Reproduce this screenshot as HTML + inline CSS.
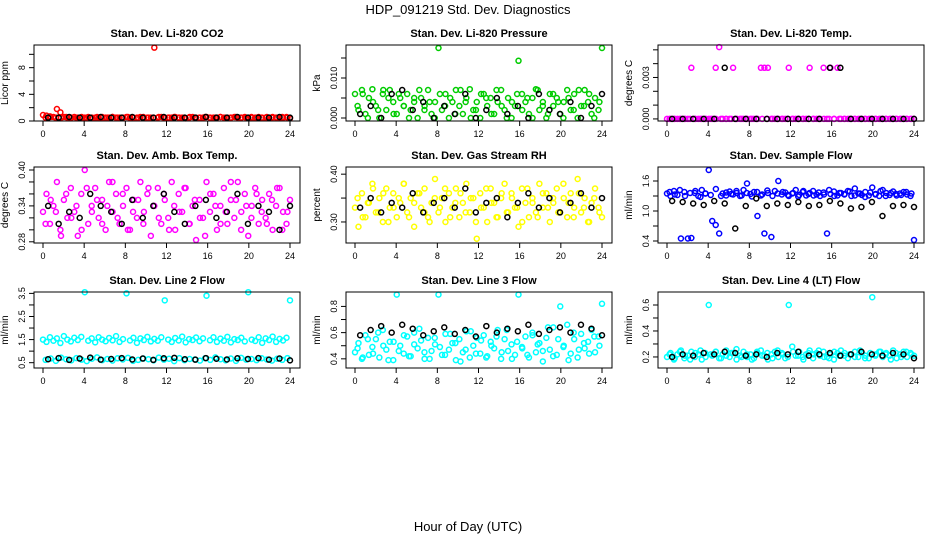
<!DOCTYPE html>
<html><head><meta charset="utf-8"><style>
html,body{margin:0;padding:0;background:#fff;}
svg{display:block;font-family:"Liberation Sans",Arial,sans-serif;}
</style></head><body>
<svg id="chart" width="936" height="540" viewBox="0 0 936 540" xmlns="http://www.w3.org/2000/svg">
<text x="468" y="14" font-size="13" text-anchor="middle">HDP_091219  Std. Dev. Diagnostics</text>
<text x="468" y="531" font-size="13" text-anchor="middle">Hour of Day (UTC)</text>
</svg>
<script>
const hourTicks = [0,4,8,12,16,20,24];
const titles = ["Stan. Dev. Li-820 CO2","Stan. Dev. Li-820 Pressure","Stan. Dev. Li-820 Temp.","Stan. Dev. Amb. Box Temp.","Stan. Dev. Gas Stream RH","Stan. Dev. Sample Flow","Stan. Dev. Line 2 Flow","Stan. Dev. Line 3 Flow","Stan. Dev. Line 4 (LT) Flow"];
const yTitles = ["Licor ppm","kPa","degrees C","degrees C","percent","ml/min","ml/min","ml/min","ml/min"];
const colors = ["#ff0000","#00cc00","#ff00ff","#ff00ff","#ffff00","#0000ff","#00ffff","#00ffff","#00ffff"];
const yTicks = [[0,2,4,6,8,10],[0,0.005,0.010,0.015],[0,0.001,0.002,0.003,0.004,0.005],[0.28,0.30,0.32,0.34,0.36,0.38,0.40],[0.30,0.35,0.40],[0.4,0.7,1.0,1.3,1.6],[0.5,1.0,1.5,2.0,2.5,3.0,3.5],[0.4,0.5,0.6,0.7,0.8],[0.2,0.3,0.4,0.5,0.6]];
const yTickLabels = [["0","","4","","8",""],["0.000","","0.010",""],["0.000","","","0.003","",""],["0.28","","","0.34","","","0.40"],["0.30","","0.40"],["0.4","","1.0","","1.6"],["0.5","","1.5","","2.5","","3.5"],["0.4","","0.6","","0.8"],["0.2","","0.4","","0.6"]];
const yDomains = [[0,11.4],[-0.00075,0.01825],[-0.00015,0.00535],[0.278,0.405],[0.256,0.415],[0.36,1.88],[0.27,3.56],[0.33,0.91],[0.115,0.70]];

const colorVals1 = [0.9,0.8,0.7,0.6,1.8,1.3,0.6,0.5,0.5,0.6,0.5,0.5,0.5,0.6,0.5,0.5,0.5,0.6,0.5,0.5,0.6,0.5,0.5,0.5,0.6,0.5,0.5,0.5,0.6,0.5,0.5,0.5,11,0.5,0.6,0.5,0.5,0.5,0.6,0.5,0.5,0.4,0.5,0.6,0.5,0.5,0.5,0.6,0.5,0.5,0.5,0.6,0.5,0.5,0.5,0.6,0.5,0.5,0.6,0.5,0.5,0.5,0.6,0.5,0.5,0.5,0.6,0.5,0.5,0.5,0.6,0.4];
const blackVals1 = [0.5,0.5,0.6,0.5,0.5,0.6,0.5,0.5,0.6,0.5,0.5,0.6,0.5,0.5,0.5,0.6,0.5,0.5,0.6,0.5,0.5,0.5,0.6,0.5];
const colorVals2 = [0.006,0.002,0.007,0.001,0.005,0.0072,0.003,0.000,0.006,0.002,0.007,0.004,0.001,0.005,0.003,0.006,0.002,0.004,0.000,0.005,0.003,0.007,0.001,0.004,0.0175,0.002,0.006,0.000,0.004,0.007,0.003,0.001,0.005,0.0072,0.002,0.004,0.000,0.006,0.003,0.005,0.001,0.004,0.007,0.002,0.005,0.000,0.003,0.0143,0.006,0.004,0.001,0.005,0.0072,0.002,0.004,0.000,0.006,0.003,0.005,0.001,0.004,0.007,0.002,0.006,0.000,0.003,0.007,0.004,0.001,0.005,0.002,0.0175];
const blackVals2 = [0.001,0.003,0.000,0.006,0.007,0.002,0.004,0.000,0.003,0.001,0.006,0.000,0.002,0.005,0.001,0.003,0.000,0.006,0.002,0.001,0.004,0.000,0.003,0.006];
const colorVals3 = [0,0,0,0,0,0,0,0.0037,0,0,0,0,0,0,0.0037,0.0052,0,0,0,0.0037,0,0,0,0,0,0,0,0.0037,0.0037,0.0037,0,0,0,0,0,0.0037,0,0,0,0,0,0.0037,0,0,0,0.0037,0,0.0037,0,0.0037,0,0,0,0,0,0,0,0,0,0,0,0,0,0,0,0,0,0,0,0,0,0];
const blackVals3 = [0,0,0,0,0,0.0037,0,0,0,0,0,0,0,0,0,0.0037,0.0037,0,0,0,0,0,0,0];
const colorVals4 = [0.33,0.36,0.31,0.34,0.38,0.30,0.35,0.32,0.37,0.33,0.29,0.36,0.40,0.31,0.34,0.37,0.32,0.35,0.30,0.38,0.33,0.36,0.31,0.34,0.37,0.30,0.35,0.32,0.38,0.33,0.36,0.29,0.34,0.37,0.31,0.35,0.32,0.38,0.30,0.36,0.33,0.37,0.31,0.34,0.283,0.35,0.32,0.38,0.33,0.36,0.30,0.34,0.37,0.31,0.35,0.32,0.38,0.33,0.36,0.29,0.34,0.37,0.31,0.35,0.32,0.36,0.30,0.34,0.37,0.33,0.31,0.35];
const blackVals4 = [0.34,0.31,0.33,0.32,0.36,0.34,0.33,0.31,0.35,0.32,0.34,0.36,0.33,0.31,0.34,0.35,0.32,0.33,0.36,0.31,0.34,0.33,0.30,0.34];
const colorVals5 = [0.33,0.29,0.36,0.31,0.34,0.38,0.32,0.35,0.30,0.37,0.33,0.36,0.31,0.34,0.38,0.32,0.35,0.29,0.36,0.33,0.37,0.31,0.34,0.39,0.32,0.35,0.30,0.36,0.33,0.37,0.31,0.34,0.38,0.32,0.35,0.265,0.36,0.33,0.30,0.37,0.34,0.31,0.35,0.38,0.32,0.36,0.33,0.29,0.37,0.34,0.31,0.35,0.32,0.38,0.33,0.36,0.30,0.34,0.37,0.32,0.35,0.31,0.36,0.33,0.39,0.32,0.35,0.30,0.34,0.37,0.33,0.31];
const blackVals5 = [0.33,0.35,0.32,0.34,0.33,0.36,0.32,0.34,0.35,0.33,0.37,0.32,0.34,0.35,0.31,0.34,0.36,0.33,0.35,0.32,0.34,0.36,0.33,0.35];
const colorVals6 = [1.35,1.30,1.40,1.32,0.45,1.38,0.45,0.46,1.36,1.30,1.42,1.35,1.82,0.80,0.72,0.55,1.35,1.31,1.39,1.33,1.36,1.30,1.42,1.55,1.34,1.38,0.90,1.31,0.55,1.36,0.48,1.40,1.60,1.33,1.37,1.30,1.35,1.42,1.32,1.38,1.31,1.36,1.40,1.33,1.30,1.37,0.55,1.34,1.39,1.31,1.36,1.33,1.40,1.30,1.45,1.35,1.32,1.38,1.31,1.47,1.34,1.30,1.42,1.36,1.32,1.39,1.31,1.35,1.38,1.33,1.30,0.42];
const blackVals6 = [1.20,1.18,1.15,1.12,1.20,1.15,0.65,1.10,1.25,1.10,1.15,1.12,1.18,1.10,1.12,1.20,1.15,1.05,1.08,1.18,0.90,1.10,1.12,1.08];
const colorVals7 = [1.50,1.40,1.60,1.45,1.55,1.35,1.65,1.50,1.42,1.58,1.48,1.62,3.55,1.45,1.55,1.38,1.60,1.50,1.43,1.57,1.47,1.65,1.40,1.52,3.50,1.46,1.58,1.36,1.55,1.48,1.62,1.42,1.53,1.45,1.60,3.20,1.50,1.40,1.57,1.46,1.63,1.38,1.52,1.48,1.59,1.43,1.55,3.40,1.47,1.60,1.40,1.54,1.45,1.62,1.38,1.52,1.48,1.58,1.42,3.55,1.50,1.44,1.60,1.36,1.55,1.48,1.63,1.40,1.53,1.46,1.58,3.20];
const blackVals7 = [0.65,0.70,0.62,0.68,0.72,0.63,0.66,0.70,0.64,0.68,0.62,0.69,0.71,0.65,0.63,0.70,0.67,0.64,0.69,0.66,0.70,0.63,0.68,0.60];
const colorVals8 = [0.45,0.52,0.40,0.58,0.43,0.49,0.55,0.41,0.62,0.47,0.53,0.39,0.89,0.50,0.44,0.57,0.42,0.60,0.48,0.54,0.40,0.56,0.46,0.51,0.89,0.43,0.59,0.47,0.52,0.39,0.55,0.45,0.61,0.41,0.50,0.56,0.44,0.58,0.42,0.53,0.48,0.62,0.40,0.55,0.46,0.51,0.43,0.89,0.49,0.57,0.41,0.60,0.45,0.52,0.38,0.56,0.47,0.64,0.43,0.80,0.50,0.66,0.44,0.55,0.41,0.59,0.48,0.53,0.62,0.45,0.57,0.82];
const blackVals8 = [0.58,0.62,0.65,0.60,0.66,0.63,0.58,0.61,0.64,0.59,0.62,0.57,0.65,0.60,0.63,0.61,0.66,0.59,0.62,0.64,0.60,0.66,0.63,0.58];
const colorVals9 = [0.20,0.23,0.18,0.22,0.25,0.19,0.21,0.24,0.20,0.22,0.18,0.23,0.60,0.21,0.24,0.19,0.22,0.25,0.20,0.23,0.18,0.21,0.24,0.20,0.22,0.19,0.23,0.25,0.21,0.18,0.22,0.24,0.20,0.23,0.19,0.60,0.28,0.21,0.24,0.20,0.22,0.25,0.19,0.23,0.21,0.24,0.20,0.22,0.18,0.23,0.25,0.21,0.19,0.22,0.24,0.20,0.23,0.21,0.19,0.66,0.22,0.24,0.20,0.23,0.21,0.25,0.19,0.22,0.24,0.20,0.23,0.21];
const blackVals9 = [0.20,0.22,0.21,0.23,0.22,0.24,0.23,0.21,0.22,0.20,0.23,0.22,0.24,0.21,0.22,0.23,0.21,0.22,0.24,0.22,0.21,0.23,0.22,0.19];

// second batch of colored readings (interleaved in time)
const extraVals1 = [0.5,0.6,0.5,0.5,0.6,0.5,0.5,0.6,0.5,0.5,0.6,0.5,0.5,0.6,0.5,0.5,0.6,0.5,0.5,0.6,0.5,0.5,0.6,0.5,0.5,0.6,0.5,0.5,0.6,0.5,0.5,0.6,0.5,0.5,0.6,0.5,0.5,0.6,0.5,0.5,0.6,0.5,0.5,0.6,0.5,0.5,0.6,0.5];
const extraVals2 = [0.003,0.006,0.000,0.004,0.002,0.007,0.005,0.001,0.006,0.003,0.000,0.005,0.007,0.002,0.004,0.000,0.006,0.003,0.005,0.001,0.007,0.004,0.000,0.002,0.006,0.005,0.001,0.007,0.003,0.000,0.004,0.006,0.002,0.005,0.000,0.007,0.003,0.001,0.006,0.004,0.000,0.005,0.002,0.007,0.003,0.006,0.000,0.004];
const extraVals3 = [0,0,0,0,0,0,0,0,0,0,0,0,0,0,0,0,0,0,0,0,0,0,0,0,0,0,0,0,0,0,0,0,0,0,0,0,0,0,0,0,0,0,0,0,0,0,0,0];
const extraVals4 = [0.31,0.35,0.33,0.29,0.36,0.32,0.34,0.30,0.37,0.33,0.35,0.31,0.34,0.38,0.32,0.36,0.30,0.33,0.35,0.31,0.37,0.34,0.32,0.36,0.30,0.34,0.33,0.37,0.31,0.35,0.32,0.29,0.36,0.34,0.31,0.33,0.38,0.35,0.30,0.34,0.32,0.36,0.33,0.31,0.35,0.37,0.30,0.33];
const extraVals5 = [0.35,0.31,0.34,0.37,0.32,0.36,0.30,0.33,0.35,0.38,0.31,0.34,0.36,0.32,0.30,0.35,0.33,0.37,0.31,0.34,0.36,0.32,0.35,0.30,0.33,0.37,0.34,0.31,0.36,0.32,0.35,0.33,0.30,0.37,0.34,0.31,0.36,0.33,0.35,0.32,0.38,0.34,0.31,0.36,0.33,0.30,0.35,0.32];
const extraVals6 = [1.38,1.33,1.42,1.30,1.36,1.40,1.28,1.35,1.32,1.44,1.30,1.37,1.34,1.40,1.31,1.36,1.29,1.38,1.33,1.41,1.30,1.35,1.38,1.32,1.36,1.29,1.40,1.34,1.31,1.37,1.33,1.42,1.30,1.36,1.34,1.39,1.31,1.35,1.28,1.37,1.33,1.40,1.30,1.36,1.34,1.32,1.38,1.35];
const extraVals7 = [0.62,0.68,0.58,0.72,0.65,0.60,0.70,0.63,0.57,0.67,0.73,0.61,0.66,0.59,0.69,0.64,0.71,0.58,0.62,0.68,0.65,0.60,0.72,0.63,0.67,0.57,0.70,0.61,0.66,0.64,0.59,0.69,0.62,0.73,0.65,0.60,0.68,0.58,0.71,0.63,0.66,0.61,0.69,0.64,0.59,0.67,0.62,0.70];
const extraVals8 = [0.48,0.41,0.55,0.44,0.60,0.50,0.39,0.53,0.46,0.58,0.42,0.51,0.63,0.45,0.40,0.56,0.49,0.43,0.59,0.52,0.38,0.47,0.61,0.44,0.54,0.41,0.50,0.57,0.45,0.62,0.40,0.53,0.48,0.43,0.58,0.51,0.46,0.64,0.42,0.55,0.49,0.39,0.60,0.47,0.52,0.44,0.57,0.50];
const extraVals9 = [0.22,0.19,0.24,0.21,0.18,0.23,0.25,0.20,0.22,0.24,0.19,0.21,0.23,0.26,0.20,0.22,0.18,0.24,0.21,0.23,0.19,0.25,0.22,0.20,0.24,0.21,0.18,0.23,0.22,0.25,0.20,0.19,0.24,0.21,0.23,0.22,0.20,0.25,0.19,0.23,0.21,0.24,0.22,0.18,0.23,0.20,0.24,0.22];

const colorSeries = [colorVals1,colorVals2,colorVals3,colorVals4,colorVals5,colorVals6,colorVals7,colorVals8,colorVals9];
const extraSeries = [extraVals1,extraVals2,extraVals3,extraVals4,extraVals5,extraVals6,extraVals7,extraVals8,extraVals9];
const blackSeries = [blackVals1,blackVals2,blackVals3,blackVals4,blackVals5,blackVals6,blackVals7,blackVals8,blackVals9];

const NS = "http://www.w3.org/2000/svg";
const svg = document.getElementById('chart');
const colLeft = [34,346,658], rowTop = [45,167,292], W = 266, H = 76;
function mk(tag, attrs, parent){ const e=document.createElementNS(NS,tag); for(const k in attrs) e.setAttribute(k,attrs[k]); parent.appendChild(e); return e; }

for (let p=0;p<9;p++){
  const L = colLeft[p%3], T = rowTop[Math.floor(p/3)];
  const g = mk('g',{},svg);
  
  
  const xs = h => L + 9 + h/24*247;
  const [d0,d1] = yDomains[p];
  const ys = v => T + H - (v-d0)/(d1-d0)*H;
  const t = mk('text',{x:L+W/2,y:T-8,'font-size':11,'font-weight':'bold','text-anchor':'middle'},g);
  t.textContent = titles[p];
  
  
  const yl = mk('text',{transform:`translate(${L-26},${T+H/2}) rotate(-90)`,'font-size':10,'text-anchor':'middle'},g);
  yl.textContent = yTitles[p];
  
  
  const cs = colorSeries[p];
  cs.forEach((v,i)=>{
    const c = mk('circle',{cx:xs(i*24/(cs.length-1)),cy:ys(v),r:2.5,fill:'none',stroke:colors[p],'stroke-width':1.5},g);
    
    
  });
  const es = extraSeries[p];
  es.forEach((v,i)=>{
    const c = mk('circle',{cx:xs(0.25+i*23.5/(es.length-1)),cy:ys(v),r:2.5,fill:'none',stroke:colors[p],'stroke-width':1.5},g);
    
    
  });
  const bs = blackSeries[p];
  bs.forEach((v,i)=>{
    const c = mk('circle',{cx:xs(0.5+i*23.5/(bs.length-1)),cy:ys(v),r:2.5,fill:'none',stroke:'#000','stroke-width':1.5},g);
    
    
  });
  const box = mk('rect',{x:L,y:T,width:W,height:H,fill:'none',stroke:'#000','stroke-width':1},g);
  
  
  hourTicks.forEach(h=>{
    mk('line',{x1:xs(h),x2:xs(h),y1:T+H,y2:T+H+5,stroke:'#000'},g);
    const tl = mk('text',{x:xs(h),y:T+H+16,'font-size':9,'text-anchor':'middle'},g);
    tl.textContent = h;
    
    
  });
  yTicks[p].forEach((v,i)=>{
    mk('line',{x1:L-5,x2:L,y1:ys(v),y2:ys(v),stroke:'#000'},g);
    const lab = yTickLabels[p][i];
    if (lab){
      const tl = mk('text',{transform:`translate(${L-9},${ys(v)}) rotate(-90)`,'font-size':9,'text-anchor':'middle'},g);
      tl.textContent = lab;
      
      
    }
  });
}
</script>
</body></html>
